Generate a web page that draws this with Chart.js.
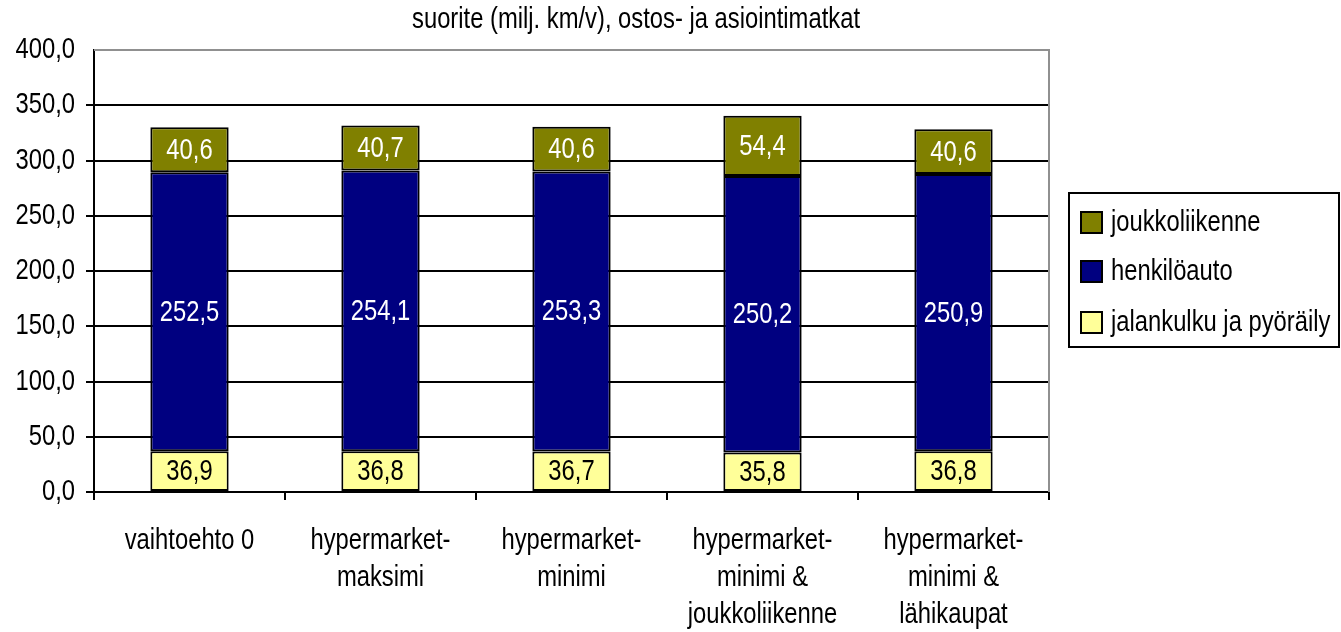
<!DOCTYPE html>
<html>
<head>
<meta charset="utf-8">
<script src="https://cdn.jsdelivr.net/npm/chart.js@4/dist/chart.umd.min.js"></script>
<style>
  html, body { margin: 0; padding: 0; background: #fff; }
  #wrap { width: 1341px; height: 632px; }
</style>
</head>
<body>
<div id="wrap"><canvas id="c" width="1341" height="632"></canvas></div>
<script>
// Kategoriat (vaihtoehdot)
const categories = [
  ['vaihtoehto 0'],
  ['hypermarket-', 'maksimi'],
  ['hypermarket-', 'minimi'],
  ['hypermarket-', 'minimi &', 'joukkoliikenne'],
  ['hypermarket-', 'minimi &', 'lähikaupat']
];

// Suorite milj. km/v kulkutavoittain
const jalankulku = [36.9, 36.8, 36.7, 35.8, 36.8];
const henkiloauto = [252.5, 254.1, 253.3, 250.2, 250.9];
const joukkoliikenne = [40.6, 40.7, 40.6, 54.4, 40.6];

const seriesNames = ['jalankulku ja pyöräily', 'henkilöauto', 'joukkoliikenne'];
const seriesColors = ['#FFFF99', '#000080', '#808000'];
const labelColors = ['#000000', '#FFFFFF', '#FFFFFF'];

const titleText = 'suorite (milj. km/v), ostos- ja asiointimatkat';
const yMin = 0, yMax = 400, yStep = 50;

// Kapea kirjasin: Liberation Sans vaakasuunnassa puristettuna
const FONT = "'Liberation Sans', Arial, sans-serif";
const FS = 29;
const SX = 0.82;
Chart.defaults.font.family = FONT;
Chart.defaults.font.size = FS;

const fmt = v => v.toFixed(1).replace('.', ',');

function drawText(ctx, text, x, y, align, color, size) {
  ctx.save();
  ctx.font = (size || FS) + 'px ' + FONT;
  ctx.fillStyle = color || '#000';
  ctx.textAlign = align;
  ctx.textBaseline = 'middle';
  ctx.translate(x, y);
  ctx.scale(SX, 1);
  ctx.fillText(text, 0, 0);
  ctx.restore();
}

// Arvot pinottujen palkkien sisään
const valueLabels = {
  id: 'valueLabels',
  afterDatasetsDraw(chart) {
    const ctx = chart.ctx;
    chart.data.datasets.forEach((ds, di) => {
      const meta = chart.getDatasetMeta(di);
      meta.data.forEach((bar, i) => {
        const p = bar.getProps(['x', 'y', 'base'], true);
        drawText(ctx, fmt(ds.data[i]), p.x, (p.y + p.base) / 2 + 1, 'center', labelColors[di]);
      });
    });
  }
};

// Otsikko, akselien tekstit, kuva-alueen reunat ja selite
const frame = {
  id: 'frame',
  beforeDatasetsDraw(chart) {
    const { ctx, chartArea: a } = chart;
    ctx.save();
    ctx.strokeStyle = '#909090';
    ctx.lineWidth = 2;
    ctx.beginPath();
    ctx.moveTo(a.left, a.top);
    ctx.lineTo(a.right, a.top);
    ctx.lineTo(a.right, a.bottom);
    ctx.stroke();
    ctx.restore();
  },
  afterDraw(chart) {
    const ctx = chart.ctx;
    drawText(ctx, titleText, 636, 20, 'center', '#000');

    const ys = chart.scales.y;
    ys.ticks.forEach(t => {
      drawText(ctx, fmt(t.value), 75, ys.getPixelForValue(t.value), 'right', '#000');
    });

    const xs = chart.scales.x;
    categories.forEach((lines, i) => {
      const cx = xs.getPixelForValue(i);
      lines.forEach((ln, k) => {
        drawText(ctx, ln, cx, xs.top + 49 + k * 37, 'center', '#000');
      });
    });

    // selite
    ctx.save();
    const lx = 1069, ly = 193, lw = 270, lh = 154;
    ctx.strokeStyle = '#000';
    ctx.lineWidth = 2;
    ctx.strokeRect(lx, ly, lw, lh);
    const rows = [222, 271, 322];
    const order = [2, 1, 0];
    order.forEach((si, k) => {
      const cy = rows[k];
      ctx.fillStyle = seriesColors[si];
      ctx.fillRect(1081, cy - 10, 21, 21);
      ctx.strokeStyle = '#000';
      ctx.lineWidth = 2;
      ctx.strokeRect(1081, cy - 10, 21, 21);
      drawText(ctx, seriesNames[si], 1111, cy + 1, 'left', '#000');
    });
    ctx.restore();
  }
};

new Chart(document.getElementById('c'), {
  type: 'bar',
  data: {
    labels: categories,
    datasets: [
      { label: seriesNames[0], data: jalankulku, backgroundColor: seriesColors[0] },
      { label: seriesNames[1], data: henkiloauto, backgroundColor: seriesColors[1] },
      { label: seriesNames[2], data: joukkoliikenne, backgroundColor: seriesColors[2] }
    ].map(d => Object.assign(d, { borderColor: '#000', borderWidth: 2, borderSkipped: false,
      barPercentage: 0.41, categoryPercentage: 1.0 }))
  },
  options: {
    responsive: false,
    animation: false,
    layout: { padding: { left: 0, top: 50, right: 292, bottom: 0 } },
    plugins: { legend: { display: false }, title: { display: false }, tooltip: { enabled: false } },
    scales: {
      x: {
        stacked: true,
        afterFit(s) { s.height = 140; },
        grid: { offset: true, drawOnChartArea: false, color: '#000', lineWidth: 2, tickLength: 8 },
        border: { display: true, color: '#000', width: 2 },
        ticks: { color: 'rgba(0,0,0,0)', maxRotation: 0, autoSkip: false }
      },
      y: {
        stacked: true,
        min: yMin, max: yMax,
        afterFit(s) { s.width = 94; },
        grid: {
          color: c => (c.tick && c.tick.value === yMax) ? 'rgba(0,0,0,0)' : '#000',
          lineWidth: 2, tickLength: 8
        },
        border: { display: true, color: '#000', width: 2 },
        ticks: { stepSize: yStep, color: 'rgba(0,0,0,0)', callback: v => fmt(v) }
      }
    }
  },
  plugins: [valueLabels, frame]
});
</script>
</body>
</html>
